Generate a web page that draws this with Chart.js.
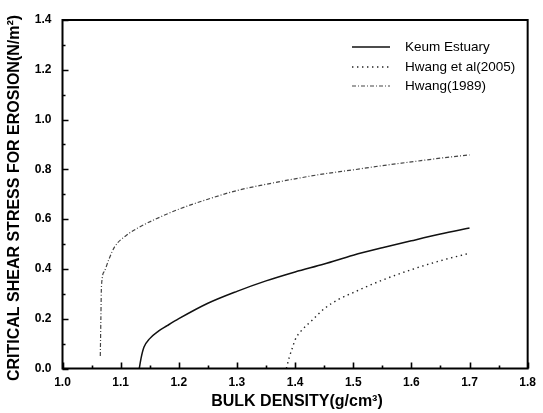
<!DOCTYPE html>
<html><head><meta charset="utf-8">
<script src="https://cdn.jsdelivr.net/npm/chart.js@4.4.0/dist/chart.umd.min.js"></script>
<style>html,body{margin:0;padding:0;background:#fff}#wrap{width:543px;height:413px;position:relative}</style>
</head><body><div id="wrap"><canvas id="c" width="543" height="413"></canvas></div>
<script>
const seriesNames = ["Keum Estuary", "Hwang et al(2005)", "Hwang(1989)"];
const keumX = [1.132,1.135,1.14,1.15,1.165,1.18,1.2,1.25,1.3,1.35,1.4,1.45,1.5,1.55,1.6,1.65,1.7];
const keumY = [0,0.04,0.085,0.12,0.15,0.172,0.2,0.262,0.31,0.352,0.388,0.42,0.455,0.485,0.513,0.54,0.564];
const hwang05X = [1.385,1.39,1.395,1.40,1.41,1.43,1.45,1.475,1.5,1.55,1.6,1.65,1.7];
const hwang05Y = [0,0.045,0.08,0.115,0.15,0.195,0.24,0.278,0.305,0.355,0.397,0.433,0.463];
const hwang89X = [1.065,1.066,1.067,1.072,1.08,1.09,1.11,1.13,1.16,1.2,1.25,1.3,1.35,1.4,1.45,1.5,1.55,1.6,1.65,1.7];
const hwang89Y = [0.05,0.2,0.33,0.39,0.44,0.49,0.535,0.565,0.6,0.64,0.68,0.715,0.74,0.762,0.782,0.798,0.815,0.83,0.845,0.858];
const xTicks = [1.0,1.1,1.2,1.3,1.4,1.5,1.6,1.7,1.8];
const yTicks = [0.0,0.2,0.4,0.6,0.8,1.0,1.2,1.4];
const xTitle = "BULK DENSITY(g/cm\u00B3)";
const yTitle = "CRITICAL SHEAR STRESS FOR EROSION(N/m\u00B2)";

const pts = (xs, ys) => xs.map((x, i) => ({x: x, y: ys[i]}));
const FONT = "'Liberation Sans', Arial, sans-serif";

const styles = [
  {color:'#111', width:1.5, dash:[]},
  {color:'#222', width:1.4, dash:[1.4,3.6]},
  {color:'#444', width:1.2, dash:[4,2,1,2]}
];

const framePlugin = {
  id: 'frame',
  afterDraw(chart) {
    const ctx = chart.ctx, a = chart.chartArea;
    const xs = chart.scales.x, ys = chart.scales.y;
    ctx.save();
    ctx.strokeStyle = '#000';
    ctx.lineWidth = 2;
    ctx.setLineDash([]);
    ctx.strokeRect(a.left, a.top, a.right - a.left, a.bottom - a.top);
    ctx.lineWidth = 1.6;
    ctx.beginPath();
    for (let v = 1.0; v <= 1.8001; v += 0.05) {
      const px = Math.round(xs.getPixelForValue(v)) + 0.5;
      const major = Math.abs(v * 10 - Math.round(v * 10)) < 1e-6;
      const len = major ? 6 : 3;
      ctx.moveTo(px, a.bottom); ctx.lineTo(px, a.bottom - len);
    }
    for (let v = 0; v <= 1.4001; v += 0.1) {
      const py = Math.round(ys.getPixelForValue(v)) + 0.5;
      const major = Math.abs(v * 5 - Math.round(v * 5)) < 1e-6;
      const len = major ? 6 : 3;
      ctx.moveTo(a.left, py); ctx.lineTo(a.left + len, py);
    }
    ctx.stroke();
    ctx.fillStyle = '#000';
    ctx.font = 'bold 16px ' + FONT;
    ctx.textAlign = 'center';
    ctx.textBaseline = 'middle';
    ctx.fillText(xTitle, 297, 402);
    ctx.save();
    ctx.translate(15, 198);
    ctx.rotate(-Math.PI / 2);
    ctx.fillText(yTitle, 0, 0);
    ctx.restore();
    ctx.font = '13.5px ' + FONT;
    ctx.textAlign = 'left';
    const rows = [47, 67, 86];
    seriesNames.forEach((n, i) => {
      const s = styles[i];
      ctx.strokeStyle = s.color; ctx.lineWidth = s.width; ctx.setLineDash(s.dash);
      ctx.beginPath(); ctx.moveTo(352, rows[i]); ctx.lineTo(390, rows[i]); ctx.stroke();
      ctx.setLineDash([]);
      ctx.fillStyle = '#000';
      ctx.fillText(n, 405, rows[i]);
    });
    ctx.restore();
  }
};

new Chart(document.getElementById('c'), {
  type: 'line',
  data: {
    datasets: [
      {label: seriesNames[0], data: pts(keumX, keumY)},
      {label: seriesNames[1], data: pts(hwang05X, hwang05Y)},
      {label: seriesNames[2], data: pts(hwang89X, hwang89Y)}
    ].map((d, i) => Object.assign(d, {
      borderColor: styles[i].color, borderWidth: styles[i].width, borderDash: styles[i].dash,
      pointRadius: 0, fill: false, cubicInterpolationMode: 'monotone'
    }))
  },
  options: {
    responsive: false, animation: false,
    layout: {padding: {top: 20, right: 9, left: 0, bottom: 0}},
    plugins: {legend: {display: false}, tooltip: {enabled: false}},
    scales: {
      x: {
        type: 'linear', min: 1.0, max: 1.8,
        afterBuildTicks: s => { s.ticks = xTicks.map(v => ({value: v})); },
        afterFit: s => { s.height = 44.5; },
        grid: {display: false, drawTicks: false},
        border: {display: false},
        ticks: {padding: 7, color: '#000', font: {family: FONT, size: 12, weight: 'bold'},
                callback: v => v.toFixed(1), maxRotation: 0}
      },
      y: {
        type: 'linear', min: 0, max: 1.4,
        afterBuildTicks: s => { s.ticks = yTicks.map(v => ({value: v})); },
        afterFit: s => { s.width = 62.5; },
        grid: {display: false, drawTicks: false},
        border: {display: false},
        ticks: {padding: 11, color: '#000', font: {family: FONT, size: 12, weight: 'bold'},
                callback: v => v.toFixed(1)}
      }
    }
  },
  plugins: [framePlugin]
});
</script></body></html>
